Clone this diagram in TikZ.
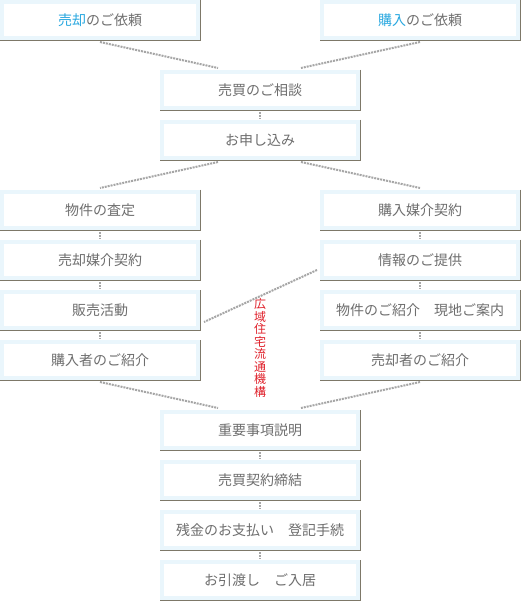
\documentclass[tikz,border=0pt]{standalone}
\usepackage{fontspec}
\setmainfont{Noto Sans CJK JP}
\definecolor{boxblue}{HTML}{EAF6FC}
\definecolor{shadowc}{HTML}{7D7868}
\definecolor{txtgray}{HTML}{6E6E6E}
\definecolor{dotgray}{HTML}{A6A6A6}
\definecolor{hlblue}{HTML}{29A8E0}
\definecolor{redtxt}{HTML}{E0202A}
\tikzset{
  flowbox/.style={rectangle, outer sep=0pt, inner sep=0pt, minimum width=196pt, minimum height=36pt,
    draw=boxblue, line width=4pt, fill=white, text=txtgray, font=\fontsize{14}{14}\selectfont},
  shadowline/.style={draw=shadowc, line width=1.2pt},
  dotline/.style={draw=dotgray, line width=2pt, dash pattern=on 2pt off 1pt},
}
\newcommand{\boxshadow}[1]{\draw[shadowline] ([xshift=2.5pt,yshift=2pt]#1.north east) -- ([xshift=2.5pt,yshift=-2.5pt]#1.south east) -- ([xshift=-2pt,yshift=-2.5pt]#1.south west);}
\begin{document}
\begin{tikzpicture}[x=1pt,y=-1pt]
\useasboundingbox[fill=white] (0,0) rectangle (521,601);
% boxes
\node[flowbox] (L0) at (100,20) {\textcolor{hlblue}{売却}のご依頼};
\node[flowbox] (R0) at (420,20) {\textcolor{hlblue}{購入}のご依頼};
\node[flowbox] (C1) at (260,90) {売買のご相談};
\node[flowbox] (C2) at (260,140) {お申し込み};
\node[flowbox] (L1) at (100,210) {物件の査定};
\node[flowbox] (L2) at (100,260) {売却媒介契約};
\node[flowbox] (L3) at (100,310) {販売活動};
\node[flowbox] (L4) at (100,360) {購入者のご紹介};
\node[flowbox] (R1) at (420,210) {購入媒介契約};
\node[flowbox] (R2) at (420,260) {情報のご提供};
\node[flowbox] (R3) at (420,310) {物件のご紹介　現地ご案内};
\node[flowbox] (R4) at (420,360) {売却者のご紹介};
\node[flowbox] (B1) at (260,430) {重要事項説明};
\node[flowbox] (B2) at (260,480) {売買契約締結};
\node[flowbox] (B3) at (260,530) {残金のお支払い　登記手続};
\node[flowbox] (B4) at (260,580) {お引渡し　ご入居};
\foreach \n in {L0,R0,C1,C2,L1,L2,L3,L4,R1,R2,R3,R4,B1,B2,B3,B4} {\boxshadow{\n}}
% connectors
\draw[dotline] ([yshift=-4pt]L0.south) -- ([xshift=-42pt,yshift=4pt]C1.north);
\draw[dotline] ([yshift=-4pt]R0.south) -- ([xshift=41pt,yshift=4pt]C1.north);
\draw[dotline] ([yshift=-4pt]C1.south) -- ([yshift=3pt]C2.north);
\draw[dotline] ([xshift=-42pt,yshift=-4pt]C2.south) -- ([yshift=4pt]L1.north);
\draw[dotline] ([xshift=41pt,yshift=-4pt]C2.south) -- ([yshift=4pt]R1.north);
\draw[dotline] ([yshift=-4pt]L1.south) -- ([yshift=3pt]L2.north);
\draw[dotline] ([yshift=-4pt]L2.south) -- ([yshift=3pt]L3.north);
\draw[dotline] ([yshift=-4pt]L3.south) -- ([yshift=3pt]L4.north);
\draw[dotline] ([yshift=-4pt]R1.south) -- ([yshift=3pt]R2.north);
\draw[dotline] ([yshift=-4pt]R2.south) -- ([yshift=3pt]R3.north);
\draw[dotline] ([yshift=-4pt]R3.south) -- ([yshift=3pt]R4.north);
\draw[dotline] ([xshift=-5pt,yshift=-10pt]R2.west) -- ([xshift=6pt,yshift=-12pt]L3.east);
\draw[dotline] ([yshift=-4pt]L4.south) -- ([xshift=-42pt,yshift=4pt]B1.north);
\draw[dotline] ([yshift=-4pt]R4.south) -- ([xshift=41pt,yshift=4pt]B1.north);
\draw[dotline] ([yshift=-4pt]B1.south) -- ([yshift=3pt]B2.north);
\draw[dotline] ([yshift=-4pt]B2.south) -- ([yshift=3pt]B3.north);
\draw[dotline] ([yshift=-4pt]B3.south) -- ([yshift=3pt]B4.north);
% red vertical label
\node[text=redtxt, font=\fontsize{12}{12.5}\selectfont, align=center, inner sep=0pt] (lbl) at (260,348)
  {広\\域\\住\\宅\\流\\通\\機\\構};
\end{tikzpicture}
\end{document}
